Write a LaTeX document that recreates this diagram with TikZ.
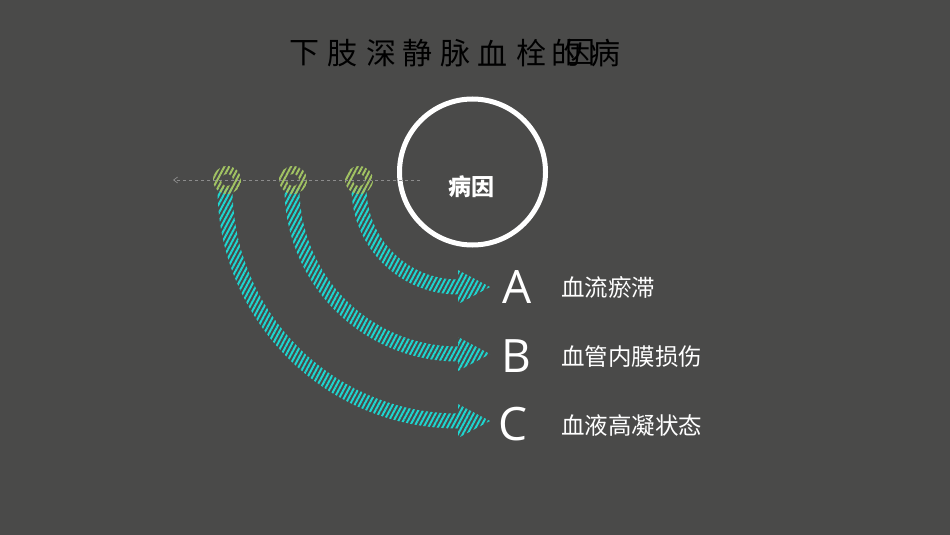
\documentclass[tikz,border=0pt]{standalone}
\usepackage{fontspec}
\usetikzlibrary{patterns.meta,arrows.meta}
\newfontfamily\cjk{Noto Sans CJK SC}
\newfontfamily\latinf{Open Sans}
\definecolor{bgc}{HTML}{4A4A49}
\definecolor{cyanc}{HTML}{1FD6D0}
\definecolor{greenc}{HTML}{A2C463}
\definecolor{dashc}{HTML}{8C8C8C}
\tikzset{
  titlech/.style={font=\cjk\fontsize{30}{30}\selectfont, text=black, inner sep=0pt},
  letterlab/.style={font=\latinf\fontsize{46}{46}\selectfont, text=white, inner sep=0pt},
  causelab/.style={font=\cjk\fontsize{23.5}{23.5}\selectfont, text=white, inner sep=0pt, anchor=west},
  hatchcyan/.style={pattern={Lines[angle=62,distance=4.2pt,line width=2pt]}, pattern color=cyanc},
  hatchgreen/.style={pattern={Lines[angle=62,distance=4.2pt,line width=2pt]}, pattern color=greenc},
}
\begin{document}
\begin{tikzpicture}[x=1pt,y=-1pt]
\fill[bgc] (0,0) rectangle (950,535);
\useasboundingbox (0,0) rectangle (950,535);
% title
\foreach \c/\x [count=\i] in {下/304,肢/342,深/381,静/417,脉/455,血/492,栓/531,的/566,因/580,病/605}
  \node[titlech] (t\i) at (\x,53) {\c};
% circle
\node[draw=white, line width=5pt, circle, minimum size=146pt, inner sep=0pt] (cause) at (472.5,172) {};
\node[font=\cjk\bfseries\fontsize{23}{23}\selectfont, text=white, inner sep=0pt] (causetxt) at (471,187) {病因};
% arrows
\foreach \r/\n in {99/1,166/2,233/3}{
  \fill[hatchcyan]
    (458-\r-7.5,188) arc[start angle=180,end angle=90,radius=\r+7.5]
    -- (458,188+\r+17) -- (490,188+\r) -- (458,188+\r-17) -- (458,188+\r-7.5)
    arc[start angle=90,end angle=180,radius=\r-7.5] -- cycle;
}
% dashed line
\coordinate (dstart) at (420,180);
\coordinate (dend) at (173,180);
% rings
\foreach \x/\n in {227/1,293/2,359/3}{
  \fill[hatchgreen, even odd rule] (\x,180) circle[radius=14] (\x,180) circle[radius=6];
  \coordinate (ring\n) at (\x,180);
}
\draw[dashc, dashed, line width=0.7pt, -{Straight Barb[length=4pt,width=6pt]}] (dstart) -- (dend);
% letters
\node[letterlab] (A) at (517,287) {A};
\node[letterlab] (B) at (516,356) {B};
\node[letterlab] (C) at (513,424) {C};
\node[causelab] (la) at (561,287) {血流瘀滞};
\node[causelab] (lb) at (561,357) {血管内膜损伤};
\node[causelab] (lc) at (561,426) {血液高凝状态};
\end{tikzpicture}
\end{document}
